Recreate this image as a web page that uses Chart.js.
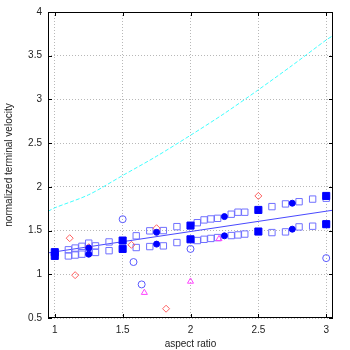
<!DOCTYPE html>
<html>
<head>
<meta charset="utf-8">
<script src="https://cdn.jsdelivr.net/npm/chart.js@4"></script>
<style>
  html, body { margin: 0; padding: 0; background: #fff; }
  #wrap { width: 350px; height: 350px; }
</style>
</head>
<body>
<div id="wrap"><canvas id="chart"></canvas></div>
<script>
// axis ticks
const xTicks = [1, 1.5, 2, 2.5, 3];
const yTicks = [0.5, 1, 1.5, 2, 2.5, 3, 3.5, 4];

// cyan dashed curve
const curveX = [0.95, 1, 1.25, 1.5, 1.75, 2, 2.25, 2.5, 2.75, 3, 3.05];
const curveY = [1.72, 1.76, 1.91, 2.13, 2.35, 2.59, 2.84, 3.11, 3.39, 3.68, 3.73];

// fitted line
const fitX = [0.95, 3.05];
const fitY = [1.245, 1.733];

// open squares, upper and lower band
const sqX  = [1.1, 1.15, 1.2, 1.25, 1.3, 1.4, 1.6, 1.7, 1.8, 1.9, 2.05, 2.1, 2.15, 2.2, 2.3, 2.35, 2.4, 2.6, 2.7, 2.8, 2.9, 3.0];
const sqHi = [1.28, 1.30, 1.32, 1.356, 1.325, 1.37, 1.44, 1.497, 1.50, 1.545, 1.59, 1.622, 1.633, 1.64, 1.687, 1.71, 1.71, 1.774, 1.805, 1.83, 1.86, 1.87];
const sqLo = [1.21, 1.22, 1.23, 1.25, 1.25, 1.27, 1.306, 1.317, 1.325, 1.363, 1.386, 1.40, 1.41, 1.42, 1.443, 1.45, 1.46, 1.477, 1.485, 1.542, 1.55, 1.573];

// filled squares
const fsqX  = [1, 1.5, 2, 2.5, 3];
const fsqHi = [1.253, 1.386, 1.557, 1.736, 1.896];
const fsqLo = [1.21, 1.29, 1.40, 1.489, 1.573];

// filled circles
const fcX  = [1.25, 1.75, 2.25, 2.75];
const fcHi = [1.30, 1.48, 1.66, 1.813];
const fcLo = [1.23, 1.345, 1.44, 1.516];

// open circles
const ocX = [1.5, 1.58, 1.64, 2.0, 3.0];
const ocY = [1.63, 1.14, 0.884, 1.29, 1.185];

// red diamonds
const rdX = [1.11, 1.15, 1.25, 1.565, 1.75, 1.82, 2.5];
const rdY = [1.413, 0.99, 1.31, 1.337, 1.527, 0.606, 1.896];

// magenta triangles
const mtX = [1.66, 2.0, 2.21];
const mtY = [0.79, 0.918, 1.405];

const pts = (xs, ys) => xs.map((x, i) => ({ x: x, y: ys[i] }));

// frame + inward ticks like gnuplot
const framePlugin = {
    id: 'frame',
    afterDatasetsDraw(chart) {
        const { ctx, chartArea: a, scales } = chart;
        ctx.save();
        ctx.strokeStyle = '#000';
        ctx.lineWidth = 1;
        ctx.strokeRect(a.left + 0.5, a.top + 0.5, a.right - a.left - 1, a.bottom - a.top - 1);
        ctx.beginPath();
        xTicks.forEach(v => {
            const px = Math.round(scales.x.getPixelForValue(v)) + 0.5;
            ctx.moveTo(px, a.bottom); ctx.lineTo(px, a.bottom - 4);
            ctx.moveTo(px, a.top); ctx.lineTo(px, a.top + 4);
        });
        yTicks.forEach(v => {
            const py = Math.round(scales.y.getPixelForValue(v)) + 0.5;
            ctx.moveTo(a.left, py); ctx.lineTo(a.left + 4, py);
            ctx.moveTo(a.right, py); ctx.lineTo(a.right - 4, py);
        });
        ctx.stroke();
        ctx.restore();
    }
};

const font = { family: 'Liberation Sans, Arial, sans-serif', size: 10 };

new Chart(document.getElementById('chart'), {
    type: 'scatter',
    data: {
        datasets: [
            {
                data: pts(fsqX, fsqHi).concat(pts(fsqX, fsqLo)),
                pointStyle: 'rect', pointRadius: 5,
                backgroundColor: '#0000ff', borderColor: '#0000ff', borderWidth: 1
            },
            {
                data: pts(fcX, fcHi).concat(pts(fcX, fcLo)),
                pointStyle: 'circle', pointRadius: 3,
                backgroundColor: '#0000ff', borderColor: '#0000ff', borderWidth: 1
            },
            {
                data: pts(mtX, mtY),
                pointStyle: 'triangle', pointRadius: 3.5,
                backgroundColor: 'transparent', borderColor: '#ff44ff', borderWidth: 1
            },
            {
                data: pts(rdX, rdY),
                pointStyle: 'rectRot', pointRadius: 3.5,
                backgroundColor: 'transparent', borderColor: '#ff6060', borderWidth: 1
            },
            {
                data: pts(ocX, ocY),
                pointStyle: 'circle', pointRadius: 3.5,
                backgroundColor: 'transparent', borderColor: '#5a5aff', borderWidth: 1
            },
            {
                data: pts(sqX, sqHi).concat(pts(sqX, sqLo)),
                pointStyle: 'rect', pointRadius: 4.5,
                backgroundColor: 'transparent', borderColor: '#7070ff', borderWidth: 1
            },
            {
                data: pts(fitX, fitY),
                showLine: true, pointRadius: 0,
                borderColor: '#4848ff', borderWidth: 1
            },
            {
                data: pts(curveX, curveY),
                showLine: true, pointRadius: 0, tension: 0.3,
                borderColor: '#40ffff', borderWidth: 1, borderDash: [4, 2]
            }
        ]
    },
    options: {
        responsive: true,
        maintainAspectRatio: false,
        animation: false,
        layout: { padding: { top: 12, right: 17, left: 0, bottom: 0 } },
        plugins: { legend: { display: false }, tooltip: { enabled: false } },
        scales: {
            x: {
                type: 'linear', min: 0.95, max: 3.05,
                afterBuildTicks: s => { s.ticks = xTicks.map(v => ({ value: v })); },
                afterFit: s => { s.height = 32; },
                grid: { color: '#b8b8b8', drawTicks: false },
                border: { display: false, dash: [1, 2] },
                ticks: { font: font, color: '#222', padding: 6, callback: v => String(v) },
                title: { display: true, text: 'aspect ratio', font: font, color: '#222', padding: { top: 2, bottom: 0 } }
            },
            y: {
                type: 'linear', min: 0.5, max: 4,
                afterBuildTicks: s => { s.ticks = yTicks.map(v => ({ value: v })); },
                afterFit: s => { s.width = 48; },
                grid: { color: '#b8b8b8', drawTicks: false },
                border: { display: false, dash: [1, 2] },
                ticks: { font: font, color: '#222', padding: 6, callback: v => String(v) },
                title: { display: true, text: 'normalized terminal velocity', font: font, color: '#222', padding: { top: 3, bottom: 0 } }
            }
        }
    },
    plugins: [framePlugin]
});
</script>
</body>
</html>
